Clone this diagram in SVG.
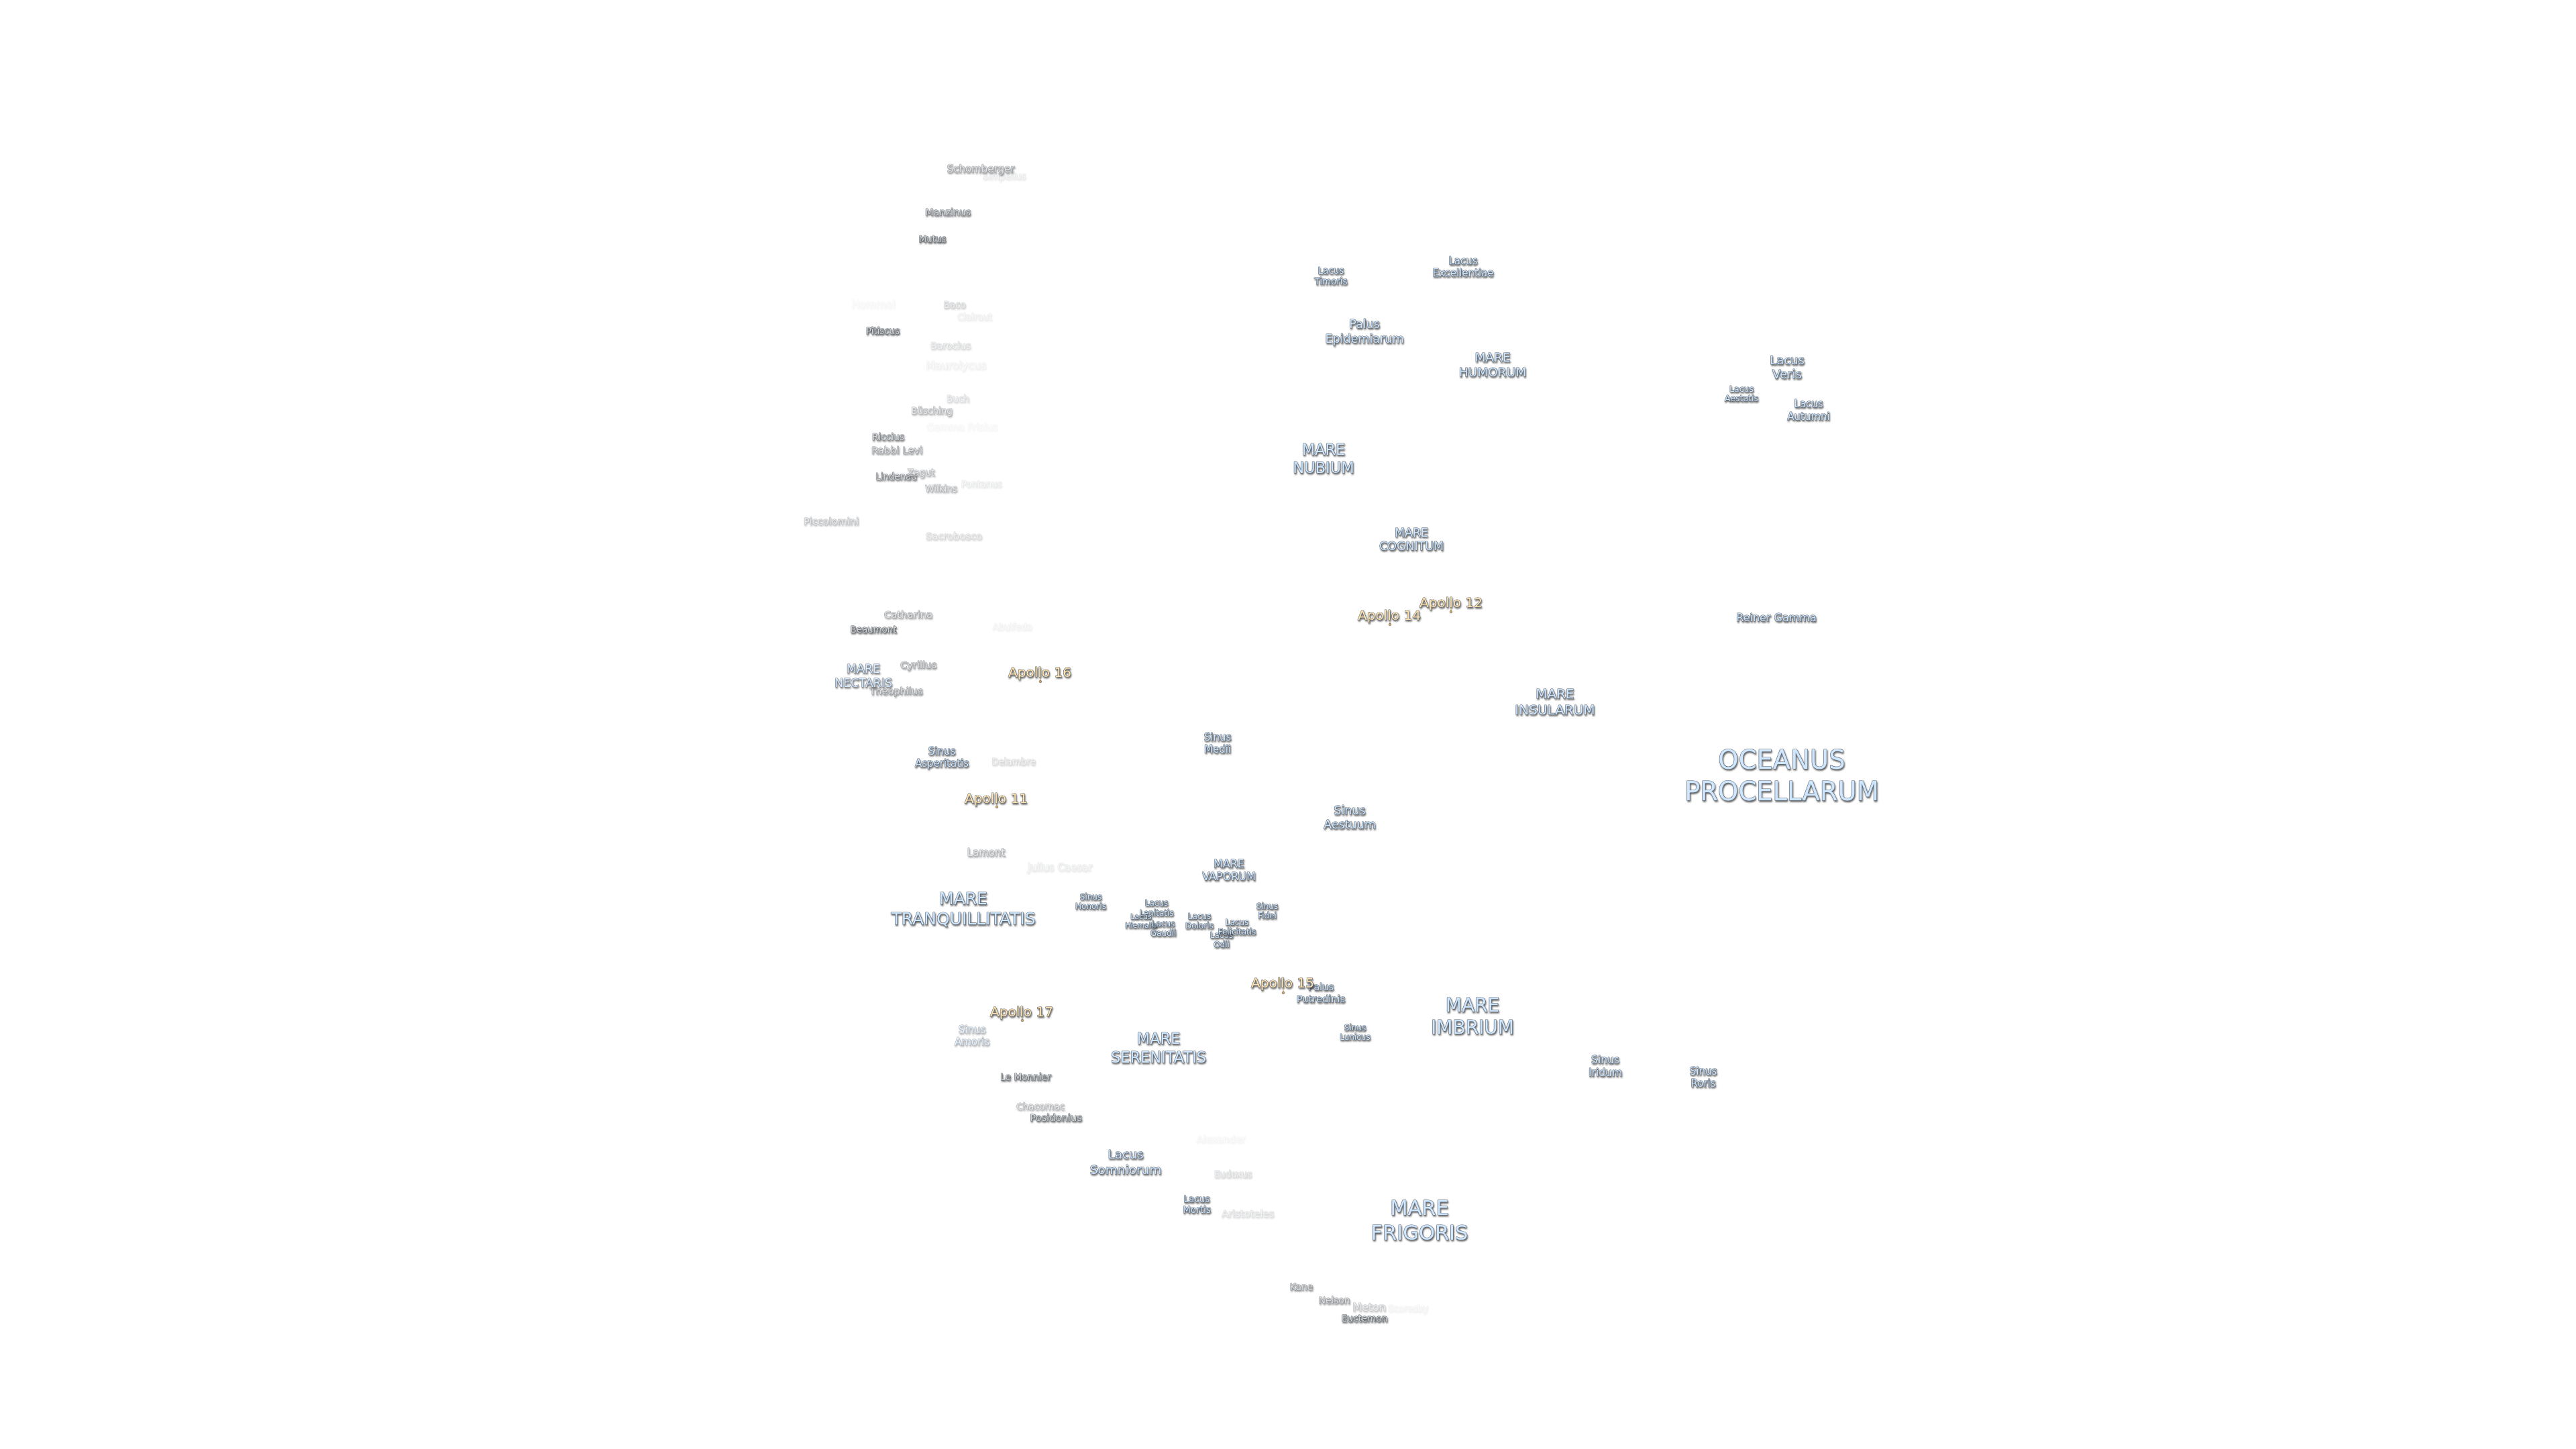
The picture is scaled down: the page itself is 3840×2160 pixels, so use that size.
<svg xmlns="http://www.w3.org/2000/svg" width="3840" height="2160" viewBox="0 0 3840 2160">
<defs>
<filter id="sh" x="-20%" y="-30%" width="140%" height="170%" color-interpolation-filters="sRGB">
<feGaussianBlur in="SourceGraphic" stdDeviation="0.5" result="t"/>
<feOffset in="SourceAlpha" dx="1.4" dy="1.8" result="o"/>
<feGaussianBlur in="o" stdDeviation="0.9" result="b"/>
<feFlood flood-color="#222" flood-opacity="0.7"/>
<feComposite in2="b" operator="in" result="s"/>
<feMerge><feMergeNode in="s"/><feMergeNode in="t"/></feMerge>
</filter>
</defs>
<style>
text{font-family:"DejaVu Sans",Verdana,sans-serif;text-anchor:middle;stroke:#5c6670;stroke-width:1.2;paint-order:stroke;stroke-linejoin:round;filter:url(#sh)}
.m text,text.m{fill:#cfe6ff}
.c text,text.c{fill:#d4d4d4}
.a{fill:#ffe2ae}
.d{fill:#d9a860;stroke:#555;stroke-width:.6}
.l{stroke:#b89a68;stroke-width:1;fill:none}
</style>
<rect width="3840" height="2160" fill="#fff"/>
<g transform="translate(0,-2)">
<g id="craters" class="c">
<text id="schomberger" x="1462" y="259" font-size="15" opacity=".65">Schomberger</text>
<text id="simpelius" x="1497" y="269" font-size="13.3" opacity=".15">Simpelius</text>
<text id="manzinus" x="1413" y="323" font-size="14.5" opacity=".85">Manzinus</text>
<text id="mutus" x="1390" y="363" font-size="13.3">Mutus</text>
<text id="hommel" x="1302" y="461" font-size="15.5" opacity=".06">Hommel</text>
<text id="baco" x="1423" y="461" font-size="13.5" opacity=".32">Baco</text>
<text id="clairaut" x="1453" y="479" font-size="13.3" opacity=".12">Clairaut</text>
<text id="pitiscus" x="1316" y="500" font-size="13.3">Pitiscus</text>
<text id="barocius" x="1417" y="522" font-size="14" opacity=".26">Barocius</text>
<text id="maurolycus" x="1425" y="552" font-size="15.8" opacity=".1">Maurolycus</text>
<text id="buch" x="1428" y="601" font-size="13.5" opacity=".26">Buch</text>
<text id="busching" x="1389" y="619" font-size="13.5" opacity=".5">Büsching</text>
<text id="gemma-frisius" x="1434" y="643" font-size="14.4" opacity=".06">Gemma Frisius</text>
<text id="riccius" x="1324" y="658" font-size="13.7" opacity=".85">Riccius</text>
<text id="rabbi-levi" x="1337" y="678" font-size="14.7" opacity=".65">Rabbi Levi</text>
<text id="lindenau" x="1336" y="717" font-size="13.4" opacity=".85">Lindenau</text>
<text id="zagut" x="1373" y="711" font-size="13.9" opacity=".5">Zagut</text>
<text id="wilkins" x="1403" y="735" font-size="13.5" opacity=".5">Wilkins</text>
<text id="pontanus" x="1463" y="728" font-size="13.2" opacity=".15">Pontanus</text>
<text id="piccolomini" x="1239" y="784" font-size="14.6" opacity=".45">Piccolomini</text>
<text id="sacrobosco" x="1422" y="806" font-size="14.7" opacity=".28">Sacrobosco</text>
<text id="catharina" x="1354" y="923" font-size="14.8" opacity=".6">Catharina</text>
<text id="beaumont" x="1302" y="945" font-size="13.4">Beaumont</text>
<text id="abulfeda" x="1509" y="941" font-size="13.3" opacity=".09">Abulfeda</text>
<text id="cyrillus" x="1369" y="998" font-size="14.7" opacity=".65">Cyrillus</text>
<text id="theophilus" x="1336" y="1037" font-size="14.5" opacity=".7">Theophilus</text>
<text id="delambre" x="1511" y="1142" font-size="13.4" opacity=".26">Delambre</text>
<text id="lamont" x="1470" y="1278" font-size="15" opacity=".55">Lamont</text>
<text id="julius-caesar" x="1580" y="1300" font-size="15" opacity=".15">Julius Caesar</text>
<text id="le-monnier" x="1529" y="1612" font-size="13.7" opacity=".95">Le Monnier</text>
<text id="chacornac" x="1551" y="1656" font-size="13.6" opacity=".5">Chacornac</text>
<text id="posidonius" x="1574" y="1673" font-size="14.7" opacity=".95">Posidonius</text>
<text id="alexander" x="1820" y="1705" font-size="14.4" opacity=".07">Alexander</text>
<text id="eudoxus" x="1838" y="1757" font-size="13.3" opacity=".26">Eudoxus</text>
<text id="aristoteles" x="1860" y="1816" font-size="14.7" opacity=".24">Aristoteles</text>
<text id="kane" x="1940" y="1925" font-size="13.8" opacity=".7">Kane</text>
<text id="nelson" x="1989" y="1945" font-size="13.7" opacity=".7">Nelson</text>
<text id="meton" x="2041" y="1956" font-size="15.9" opacity=".4">Meton</text>
<text id="scoresby" x="2099" y="1957" font-size="13.2" opacity=".09">Scoresby</text>
<text id="euctemon" x="2034" y="1972" font-size="13.6">Euctemon</text>
</g>
<g id="seas" class="m">
<g id="oceanus-procellarum" font-size="38.5"><text x="2656" y="1148">OCEANUS</text><text x="2656" y="1195">PROCELLARUM</text></g>
<g id="mare-nectaris" font-size="17.5" opacity=".85"><text x="1287" y="1005">MARE</text><text x="1287" y="1026">NECTARIS</text></g>
<g id="sinus-asperitatis" font-size="15"><text x="1404" y="1127">Sinus</text><text x="1404" y="1145">Asperitatis</text></g>
<g id="mare-tranquillitatis" font-size="25"><text x="1436" y="1350">MARE</text><text x="1436" y="1380">TRANQUILLITATIS</text></g>
<g id="sinus-honoris" font-size="12"><text x="1626" y="1343">Sinus</text><text x="1626" y="1357">Honoris</text></g>
<g id="mare-vaporum" font-size="16"><text x="1832" y="1295">MARE</text><text x="1832" y="1314">VAPORUM</text></g>
<g id="lacus-lenitatis" font-size="12"><text x="1724" y="1352">Lacus</text><text x="1724" y="1367">Lenitatis</text></g>
<g id="lacus-hiemalis" font-size="11"><text x="1701" y="1372">Lacus</text><text x="1701" y="1385">Hiemalis</text></g>
<g id="lacus-gaudii" font-size="12"><text x="1734" y="1383">Lacus</text><text x="1734" y="1397">Gaudii</text></g>
<g id="lacus-doloris" font-size="12"><text x="1788" y="1372">Lacus</text><text x="1788" y="1386">Doloris</text></g>
<g id="lacus-odii" font-size="12"><text x="1821" y="1400">Lacus</text><text x="1821" y="1414">Odii</text></g>
<g id="lacus-felicitatis" font-size="12"><text x="1844" y="1381">Lacus</text><text x="1844" y="1395">Felicitatis</text></g>
<g id="sinus-fidei" font-size="12"><text x="1889" y="1357">Sinus</text><text x="1889" y="1371">Fidei</text></g>
<g id="palus-putredinis" font-size="14.6"><text x="1969" y="1478">Palus</text><text x="1969" y="1496">Putredinis</text></g>
<g id="sinus-aestuum" font-size="17.5"><text x="2012" y="1216">Sinus</text><text x="2012" y="1237">Aestuum</text></g>
<g id="sinus-medii" font-size="15"><text x="1815" y="1106">Sinus</text><text x="1815" y="1124">Medii</text></g>
<g id="sinus-amoris" font-size="15" opacity=".5"><text x="1449" y="1542">Sinus</text><text x="1449" y="1560">Amoris</text></g>
<g id="mare-serenitatis" font-size="22.5"><text x="1727" y="1558">MARE</text><text x="1727" y="1586">SERENITATIS</text></g>
<g id="lacus-somniorum" font-size="18.5"><text x="1678" y="1729">Lacus</text><text x="1678" y="1752">Somniorum</text></g>
<g id="lacus-mortis" font-size="13.5"><text x="1784" y="1794">Lacus</text><text x="1784" y="1810">Mortis</text></g>
<g id="mare-frigoris" font-size="30.5"><text x="2116" y="1813">MARE</text><text x="2116" y="1850">FRIGORIS</text></g>
<g id="lacus-timoris" font-size="13.5"><text x="1984" y="410">Lacus</text><text x="1984" y="426">Timoris</text></g>
<g id="lacus-excellentiae" font-size="15"><text x="2181" y="396">Lacus</text><text x="2181" y="414">Excellentiae</text></g>
<g id="palus-epidemiarum" font-size="17.5"><text x="2034" y="491">Palus</text><text x="2034" y="513">Epidemiarum</text></g>
<g id="mare-humorum" font-size="18.5"><text x="2225" y="541">MARE</text><text x="2225" y="563">HUMORUM</text></g>
<g id="mare-nubium" font-size="22.5"><text x="1973" y="680">MARE</text><text x="1973" y="707">NUBIUM</text></g>
<g id="mare-cognitum" font-size="17.4"><text x="2104" y="802">MARE</text><text x="2104" y="822">COGNITUM</text></g>
<g id="mare-insularum" font-size="20"><text x="2318" y="1043">MARE</text><text x="2318" y="1067">INSULARUM</text></g>
<g id="lacus-veris" font-size="18"><text x="2664" y="545">Lacus</text><text x="2664" y="566">Veris</text></g>
<g id="lacus-aestatis" font-size="12.5"><text x="2596" y="586">Lacus</text><text x="2596" y="600">Aestatis</text></g>
<g id="lacus-autumni" font-size="15"><text x="2696" y="609">Lacus</text><text x="2696" y="628">Autumni</text></g>
<text id="reiner-gamma" x="2648" y="928" font-size="16">Reiner Gamma</text>
<g id="mare-imbrium" font-size="28"><text x="2195" y="1510">MARE</text><text x="2195" y="1543">IMBRIUM</text></g>
<g id="sinus-lunicus" font-size="12"><text x="2020" y="1538">Sinus</text><text x="2020" y="1552">Lunicus</text></g>
<g id="sinus-iridum" font-size="15.5"><text x="2393" y="1587">Sinus</text><text x="2393" y="1606">Iridum</text></g>
<g id="sinus-roris" font-size="15"><text x="2539" y="1604">Sinus</text><text x="2539" y="1622">Roris</text></g>
</g>
<g id="apollo">
<g id="apollo-11"><text class="a" x="1485" y="1199" font-size="20">Apollo 11</text></g>
<g id="apollo-12"><text class="a" x="2163" y="907" font-size="20">Apollo 12</text></g>
<g id="apollo-14"><text class="a" x="2071" y="926" font-size="20">Apollo 14</text></g>
<g id="apollo-15"><text class="a" x="1912" y="1474" font-size="20">Apollo 15</text></g>
<g id="apollo-16"><text class="a" x="1550" y="1011" font-size="20">Apollo 16</text></g>
<g id="apollo-17"><text class="a" x="1523" y="1517" font-size="20">Apollo 17</text></g>
</g>
<g id="connectors">
<path class="l" d="M1486 1199V1205M2163 907V914M2072 926V933M1913 1474V1482M1551 1011V1018M1524 1517V1523"/>
<circle class="d" cx="1486" cy="1205" r="1.8"/>
<circle class="d" cx="2163" cy="914" r="1.8"/>
<circle class="d" cx="2072" cy="933" r="1.8"/>
<circle class="d" cx="1913" cy="1482" r="1.8"/>
<circle class="d" cx="1551" cy="1018" r="1.8"/>
<circle class="d" cx="1524" cy="1523" r="1.8"/>
</g>
</g>
</svg>
